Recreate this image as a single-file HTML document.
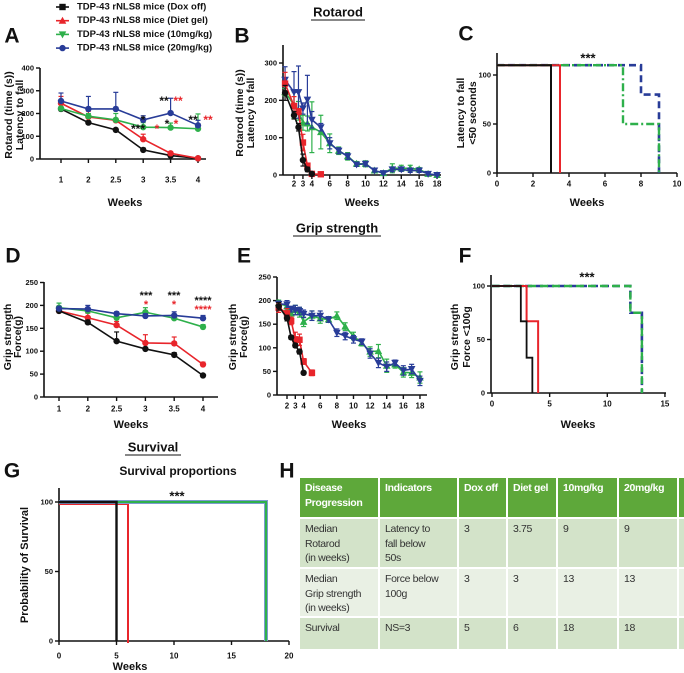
<!DOCTYPE html>
<html><head><meta charset="utf-8">
<style>
body{margin:0;background:#fff;}
#wrap{position:relative;width:684px;height:673px;overflow:hidden;font-family:"Liberation Sans",sans-serif;}
svg{position:absolute;left:0;top:0;}
text{font-family:"Liberation Sans",sans-serif;font-weight:bold;}
table{position:absolute;left:300px;top:478px;border-collapse:collapse;table-layout:fixed;width:386px;font-family:"Liberation Sans",sans-serif;font-size:10.5px;line-height:14.5px;letter-spacing:-0.35px;}
td{vertical-align:top;padding:3px 2px 0 5px;border-right:2px solid #fff;border-bottom:2px solid #fff;color:#333;box-sizing:border-box;overflow:hidden;}
tr.h td{background:#5ea83a;color:#fff;height:40px;font-weight:bold;white-space:nowrap;}
tr.r1 td{background:#d3e3c9;height:50px;}
tr.r2 td{background:#e9f0e4;height:49px;}
tr.r3 td{background:#d3e3c9;height:33px;}
</style></head>
<body>
<div id="wrap">
<svg id="fig" width="684" height="673" viewBox="0 0 684 673"></svg>
<table>
<colgroup><col style="width:79px"><col style="width:79px"><col style="width:49px"><col style="width:50px"><col style="width:61px"><col style="width:60px"><col style="width:8px"></colgroup>
<tr class="h"><td>Disease<br>Progression</td><td>Indicators</td><td>Dox off</td><td>Diet gel</td><td>10mg/kg</td><td>20mg/kg</td><td></td></tr>
<tr class="r1"><td>Median<br>Rotarod<br>(in weeks)</td><td>Latency to<br>fall below<br>50s</td><td>3</td><td>3.75</td><td>9</td><td>9</td><td></td></tr>
<tr class="r2"><td style="white-space:nowrap">Median<br>Grip strength<br>(in weeks)</td><td>Force below<br>100g</td><td>3</td><td>3</td><td>13</td><td>13</td><td></td></tr>
<tr class="r3"><td>Survival</td><td>NS=3</td><td>5</td><td>6</td><td>18</td><td>18</td><td></td></tr>
</table>
</div>
<script>
// ---------- DATA ----------
const seriesNames = ["Dox off","Diet gel","10mg/kg","20mg/kg"];
const catWeeks = ["1","2","2.5","3","3.5","4"];
// Panel A rotarod
const aBlack = [220,160,128,40,15,3];
const aRed = [245,185,170,87,25,3];
const aGreen = [222,188,172,140,138,133];
const aBlue = [255,220,220,172,202,148];
const aBlackErr = [10,5,5,8,3,2];
const aRedErr = [30,25,8,22,5,2];
const aGreenErr = [8,12,28,20,20,65];
const aBlueErr = [35,55,73,18,65,22];
// Panel B rotarod long
const bWeeksShort = [1,2,2.5,3,3.5,4];
const bWeeksRed = [1,2,2.5,3,3.5,4,5];
const bWeeksLong = [1,2,2.5,3,3.5,4,5,6,7,8,9,10,11,12,13,14,15,16,17,18];
const bBlack = [220,160,128,40,15,3];
const bRed = [245,185,170,87,25,3,2];
const bGreen = [222,188,172,140,138,128,115,85,65,50,30,30,12,5,18,18,18,15,3,0];
const bBlue = [255,222,222,178,202,148,128,85,65,50,28,30,12,5,15,15,12,12,3,0];
const bGreenErr = [10,35,25,20,20,68,45,25,10,10,6,8,5,3,12,8,8,5,3,2];
const bBlueErr = [35,55,70,15,65,22,10,15,8,8,5,6,4,3,6,5,5,5,3,2];
// Panel C
const cBlackT = [0,3]; const cBlackV = [110,0];
const cRedT = [0,3.5]; const cRedV = [110,0];
const cGreenT = [0,7,9]; const cGreenV = [110,50,0];
const cBlueT = [0,8,9]; const cBlueV = [110,80,0];
// Panel D grip
const dBlack = [188,163,122,105,92,47];
const dRed = [188,173,157,118,117,71];
const dGreen = [195,188,173,185,172,153];
const dBlue = [193,192,182,177,178,172];
const dBlackErr = [5,5,20,3,5,3];
const dRedErr = [5,10,8,18,14,5];
const dGreenErr = [10,5,5,10,5,5];
const dBlueErr = [5,8,4,5,8,6];
// Panel E grip long
const eBlack = [188,163,122,105,92,47];
const eRed = [185,173,157,118,117,71,47];
const eGreen = [195,188,173,180,175,155,168,162,160,168,145,125,110,92,93,62,65,48,47,37];
const eBlue = [193,192,182,180,178,172,168,168,160,132,125,118,113,88,68,60,68,52,55,30];
const eGreenErr = [6,8,8,10,10,10,10,10,6,8,8,8,6,10,14,14,8,10,10,12];
const eBlueErr = [6,8,6,10,8,8,10,10,6,8,8,8,6,10,10,10,6,10,10,10];
// Panel F
const fBlackT = [0,2.5,3,3.5]; const fBlackV = [100,67,33,0];
const fRedT = [0,3,4]; const fRedV = [100,67,0];
const fGreenT = [0,12,13]; const fGreenV = [100,75,0];
const fBlueT = [0,12,13]; const fBlueV = [100,75,0];
// Panel G survival
const gBlackT = [0,5]; const gBlackV = [100,0];
const gRedT = [0,6]; const gRedV = [100,0];
const gGreenT = [0,18]; const gGreenV = [100,0];
const gBlueT = [0,18]; const gBlueV = [100,0];

const COL = {k:"#111",r:"#e8252b",g:"#2eb04b",b:"#283c98"};
const NS = "http://www.w3.org/2000/svg";
const svg = document.getElementById('fig');

function mk(tag, name, parent){
  const e = document.createElementNS(NS, tag);
  
  
  (parent||svg).appendChild(e);
  return e;
}
function set(e, o){ for(const k in o) e.setAttribute(k, o[k]); return e; }
function txt(s, x, y, size, name, opts){
  const t = mk('text', name);
  set(t, {x:x, y:y, 'font-size':size, 'text-anchor':'middle', 'dominant-baseline':'central', fill:'#111'});
  if(opts) set(t, opts);
  t.textContent = s;
  return t;
}
function line(x1,y1,x2,y2,stroke,w,name,dash){
  const l = mk('line', name);
  set(l,{x1:x1,y1:y1,x2:x2,y2:y2,stroke:stroke,'stroke-width':w});
  if(dash) l.setAttribute('stroke-dasharray', dash);
  return l;
}
function axes(p){
  line(p.x0, p.y0, p.x1, p.y0, '#111', 1.6, p.pre+'-x-axis');
  line(p.x0, p.yTop, p.x0, p.y0, '#111', 1.6, p.pre+'-y-axis');
  p.yTicks.forEach(v=>{
    const y = p.ySc(v);
    line(p.x0-4, y, p.x0, y, '#111', 1.4, p.pre+'-y-tick');
    txt(String(v), p.x0-6, y, 7.5, p.pre+'-y-tick-label', {'text-anchor':'end'});
  });
  p.xTicks.forEach((v,i)=>{
    const x = p.xSc(v);
    line(x, p.y0, x, p.y0+4, '#111', 1.4, p.pre+'-x-tick');
    if(p.xLabels[i]!==null) txt(p.xLabels[i], x, p.xLabY, 8, p.pre+'-x-tick-label');
  });
  if(p.weeksY) txt('Weeks', p.weeksX || (p.x0+p.x1)/2, p.weeksY, 11, p.pre+'-x-axis-title');
}
function ylab(lines, xs, yc, pre, size){
  lines.forEach((s,i)=>{
    txt(s, xs[i], yc, size||10.5, pre+'-y-axis-title', {transform:'rotate(-90 '+xs[i]+' '+yc+')'});
  });
}
function marker(type, x, y, c, name){
  let m;
  if(type==='c'){ m = mk('circle', name); set(m,{cx:x,cy:y,r:3.2,fill:c}); }
  else if(type==='s'){ m = mk('rect', name); set(m,{x:x-3.2,y:y-3.2,width:6.4,height:6.4,fill:c}); }
  else if(type==='t'){ m = mk('polygon', name); set(m,{points:(x)+','+(y-4)+' '+(x-3.8)+','+(y+3)+' '+(x+3.8)+','+(y+3),fill:c}); }
  else { m = mk('polygon', name); set(m,{points:(x)+','+(y+4)+' '+(x-3.8)+','+(y-3)+' '+(x+3.8)+','+(y-3),fill:c}); }
  return m;
}
function series(xs, ys, errs, xSc, ySc, c, mtype, name, both){
  const pts = xs.map((x,i)=>xSc(x)+','+ySc(ys[i])).join(' ');
  if(errs){
    xs.forEach((x,i)=>{
      const X = xSc(x), Y = ySc(ys[i]), Yt = ySc(ys[i]+errs[i]), Yb = both ? ySc(ys[i]-errs[i]) : Y;
      line(X, Yb, X, Yt, c, 1.2, name+'-error-bar');
      line(X-2.5, Yt, X+2.5, Yt, c, 1.2, name+'-error-cap');
      if(both) line(X-2.5, Yb, X+2.5, Yb, c, 1.2, name+'-error-cap');
    });
  }
  const pl = mk('polyline', name+'-line');
  set(pl,{points:pts, fill:'none', stroke:c, 'stroke-width':1.6});
  xs.forEach((x,i)=>marker(mtype, xSc(x), ySc(ys[i]), c, name+'-point'));
}
function steps(ts, vs, xSc, ySc, c, w, dash, name){
  let d = 'M'+xSc(ts[0])+','+ySc(vs[0]);
  for(let i=1;i<ts.length;i++){
    d += ' H'+xSc(ts[i])+' V'+ySc(vs[i]);
  }
  const p = mk('path', name);
  set(p,{d:d, fill:'none', stroke:c, 'stroke-width':w});
  if(dash) p.setAttribute('stroke-dasharray', dash);
}

// ---------- TITLES & LETTERS ----------
function underTitle(s, x, y, w, name){
  txt(s, x, y, 13, name);
  line(x-w/2, y+8, x+w/2, y+8, '#111', 1, name+'-underline');
}
underTitle('Rotarod', 338, 12, 54, 'rotarod-title');
underTitle('Grip strength', 337, 228, 88, 'grip-strength-title');
underTitle('Survival', 153, 447, 56, 'survival-title');
[['A',12,36],['B',242,36],['C',466,34],['D',13,256],['E',244,256],['F',465,256],['G',12,471],['H',287,471]].forEach(l=>{
  txt(l[0], l[1], l[2], 21, 'panel-letter-'+l[0].toLowerCase());
});

// ---------- LEGEND ----------
const legCols = [COL.k, COL.r, COL.g, COL.b];
const legMk = ['s','t','v','c'];
seriesNames.forEach((n,i)=>{
  const y = 7 + i*13.7;
  line(56, y, 69, y, legCols[i], 1.6, 'legend-line');
  marker(legMk[i], 62.5, y, legCols[i], 'legend-marker');
  txt('TDP-43 rNLS8 mice ('+n+')', 77, y, 9.5, 'legend-entry', {'text-anchor':'start'});
});

// ---------- PANEL A ----------
const aX = i=>61+i*27.4, aY = v=>159 - v*0.2275;
axes({x0:40,x1:206,y0:159,yTop:68,yTicks:[0,100,200,300,400],ySc:aY,xTicks:[0,1,2,3,4,5],xSc:aX,xLabels:catWeeks,xLabY:180,weeksY:203,weeksX:125,pre:'panel-a'});
ylab(['Rotarod (time (s))','Latency to fall'],[9,20],115,'panel-a');
const idx = catWeeks.map((_,i)=>i);
series(idx,aBlack,aBlackErr,aX,aY,COL.k,'c','panel-a-dox-off');
series(idx,aRed,aRedErr,aX,aY,COL.r,'c','panel-a-diet-gel');
series(idx,aGreen,aGreenErr,aX,aY,COL.g,'c','panel-a-10mg');
series(idx,aBlue,aBlueErr,aX,aY,COL.b,'c','panel-a-20mg');
[['*',143,118,COL.k],['***',138,127,COL.k],['*',157,127,COL.r],['**',164,99,COL.k],['**',178,99,COL.r],['*',167,122,COL.k],['*',176,122,COL.r],['**',193,118,COL.k],['**',208,118,COL.r]].forEach(s=>txt(s[0],s[1],s[2]+2,12,'panel-a-significance',{fill:s[3],'font-weight':'normal'}));

// ---------- PANEL B ----------
const bX = w=>294+(w-2)*8.94, bY = v=>175 - v*0.3733;
axes({x0:283,x1:441,y0:175,yTop:45,yTicks:[0,100,200,300],ySc:bY,xTicks:[2,3,4,6,8,10,12,14,16,18],xSc:bX,xLabels:['2','3','4','6','8','10','12','14','16','18'],xLabY:184,weeksY:203,weeksX:362,pre:'panel-b'});
ylab(['Rotarod (time (s))','Latency to fall'],[240,251],113,'panel-b');
series(bWeeksLong,bGreen,bGreenErr,bX,bY,COL.g,'t','panel-b-10mg',true);
series(bWeeksLong,bBlue,bBlueErr,bX,bY,COL.b,'v','panel-b-20mg',true);
series(bWeeksRed,bRed,[30,25,8,22,5,2,2],bX,bY,COL.r,'s','panel-b-diet-gel',true);
series(bWeeksShort,bBlack,[20,10,10,16,6,4],bX,bY,COL.k,'c','panel-b-dox-off',true);

// ---------- PANEL C ----------
const cX = w=>497+w*18, cY = v=>173 - v*0.98;
axes({x0:497,x1:677,y0:173,yTop:53,yTicks:[0,50,100],ySc:cY,xTicks:[0,2,4,6,8,10],xSc:cX,xLabels:['0','2','4','6','8','10'],xLabY:184,weeksY:203,pre:'panel-c'});
ylab(['Latency to fall','<50 seconds'],[461,473],113,'panel-c');
steps(cBlueT,cBlueV,cX,cY,COL.b,2.6,'7 4','panel-c-20mg-curve');
steps(cGreenT,cGreenV,cX,cY,COL.g,2.4,'8 3 2 3','panel-c-10mg-curve');
steps(cRedT,cRedV,cX,cY,COL.r,2,null,'panel-c-diet-gel-curve');
steps(cBlackT,cBlackV,cX,cY,COL.k,2,null,'panel-c-dox-off-curve');
txt('***',588,58,13,'panel-c-significance',{'font-weight':'normal'});

// ---------- PANEL D ----------
const dX = i=>59+i*28.8, dY = v=>397 - v*0.458;
axes({x0:44,x1:218,y0:397,yTop:282,yTicks:[0,50,100,150,200,250],ySc:dY,xTicks:[0,1,2,3,4,5],xSc:dX,xLabels:catWeeks,xLabY:409,weeksY:425,weeksX:131,pre:'panel-d'});
ylab(['Grip strength','Force(g)'],[8,18],337,'panel-d');
series(idx,dRed,dRedErr,dX,dY,COL.r,'c','panel-d-diet-gel');
series(idx,dBlack,dBlackErr,dX,dY,COL.k,'c','panel-d-dox-off');
series(idx,dGreen,dGreenErr,dX,dY,COL.g,'c','panel-d-10mg');
series(idx,dBlue,dBlueErr,dX,dY,COL.b,'c','panel-d-20mg');
[['***',146,296,COL.k],['*',146,305,COL.r],['***',174,296,COL.k],['*',174,305,COL.r],['****',203,301,COL.k],['****',203,310,COL.r]].forEach(s=>txt(s[0],s[1],s[2],11,'panel-d-significance',{fill:s[3],'font-weight':'normal'}));

// ---------- PANEL E ----------
const eX = w=>287+(w-2)*8.31, eY = v=>395 - v*0.472;
axes({x0:277,x1:427,y0:395,yTop:277,yTicks:[0,50,100,150,200,250],ySc:eY,xTicks:[2,3,4,6,8,10,12,14,16,18],xSc:eX,xLabels:['2','3','4','6','8','10','12','14','16','18'],xLabY:406,weeksY:425,weeksX:349,pre:'panel-e'});
ylab(['Grip strength','Force(g)'],[233,244],337,'panel-e');
series(bWeeksLong,eGreen,eGreenErr,eX,eY,COL.g,'t','panel-e-10mg',true);
series(bWeeksLong,eBlue,eBlueErr,eX,eY,COL.b,'v','panel-e-20mg',true);
series(bWeeksRed,eRed,[10,10,8,15,12,6,6],eX,eY,COL.r,'s','panel-e-diet-gel',true);
series(bWeeksShort,eBlack,[8,6,4,4,5,3],eX,eY,COL.k,'c','panel-e-dox-off',true);

// ---------- PANEL F ----------
const fX = w=>492+w*11.53, fY = v=>393 - v*1.07;
axes({x0:491,x1:666,y0:393,yTop:275,yTicks:[0,50,100],ySc:fY,xTicks:[0,5,10,15],xSc:fX,xLabels:['0','5','10','15'],xLabY:404,weeksY:425,weeksX:578,pre:'panel-f'});
ylab(['Grip strength','Force <100g'],[455,467],337,'panel-f');
steps(fBlueT,fBlueV,fX,fY,COL.b,2.6,'7 4','panel-f-20mg-curve');
steps(fGreenT,fGreenV,fX,fY,COL.g,2.4,'8 4','panel-f-10mg-curve');
steps(fRedT,fRedV,fX,fY,COL.r,2,null,'panel-f-diet-gel-curve');
steps(fBlackT,fBlackV,fX,fY,COL.k,1.8,null,'panel-f-dox-off-curve');
txt('***',587,277,13,'panel-f-significance',{'font-weight':'normal'});

// ---------- PANEL G ----------
const gX = w=>59+w*11.5, gY = v=>641 - v*1.39;
axes({x0:59,x1:289,y0:641,yTop:488,yTicks:[0,50,100],ySc:gY,xTicks:[0,5,10,15,20],xSc:gX,xLabels:['0','5','10','15','20'],xLabY:656,weeksY:667,weeksX:130,pre:'panel-g'});
ylab(['Probability of Survival'],[25],565,'panel-g',11);
txt('Survival proportions',178,471,12,'panel-g-chart-title');
steps(gRedT,gRedV,gX,v=>gY(v)+2,COL.r,2,null,'panel-g-diet-gel-curve');
steps(gBlueT,gBlueV,gX,gY,'#7d9ad0',4,null,'panel-g-20mg-curve');
steps(gGreenT,gGreenV,gX,gY,COL.g,2,null,'panel-g-10mg-curve');
steps(gBlackT,gBlackV,gX,gY,COL.k,2.4,null,'panel-g-dox-off-curve');
txt('***',177,496,13,'panel-g-significance',{'font-weight':'normal'});
</script>
</body></html>
